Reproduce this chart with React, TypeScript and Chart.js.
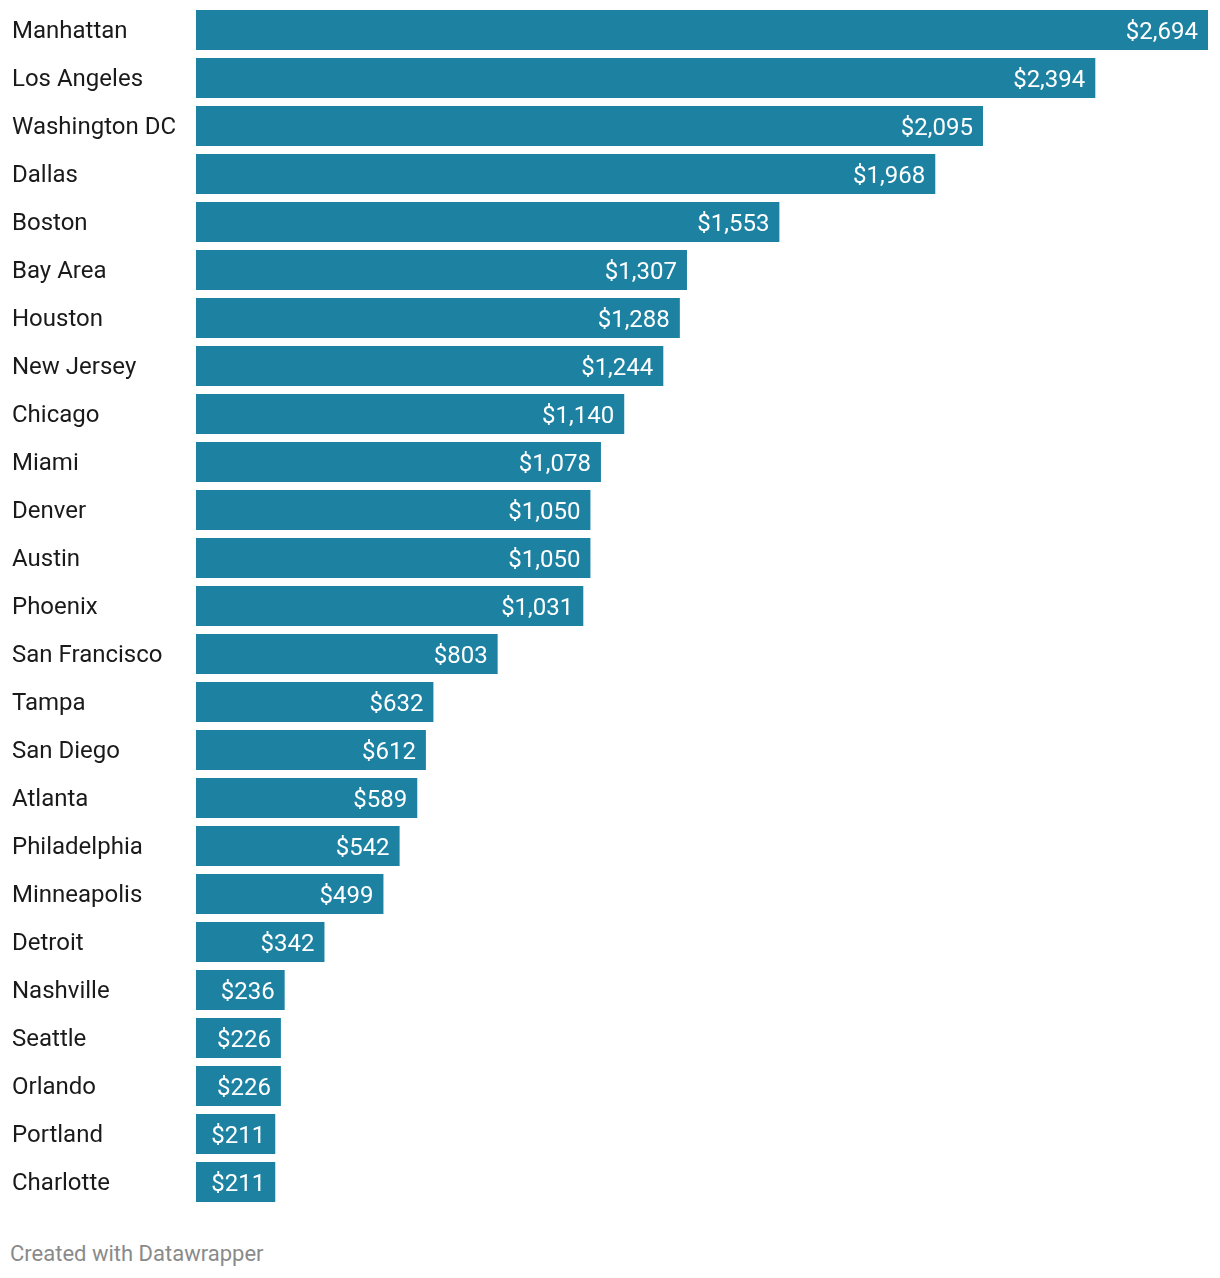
import React, { useEffect, useRef } from "react";
import { Chart, registerables } from "chart.js";

Chart.register(...registerables);

const cities = [
  "Manhattan", "Los Angeles", "Washington DC", "Dallas", "Boston", "Bay Area",
  "Houston", "New Jersey", "Chicago", "Miami", "Denver", "Austin", "Phoenix",
  "San Francisco", "Tampa", "San Diego", "Atlanta", "Philadelphia", "Minneapolis",
  "Detroit", "Nashville", "Seattle", "Orlando", "Portland", "Charlotte",
];

const values = [
  2694, 2394, 2095, 1968, 1553, 1307, 1288, 1244, 1140, 1078, 1050, 1050, 1031,
  803, 632, 612, 589, 542, 499, 342, 236, 226, 226, 211, 211,
];

const BAR_COLOR = "#1d81a2";
const FONT = "Roboto";

const valueLabels = {
  id: "valueLabels",
  afterDatasetsDraw(chart: any) {
    const ctx = chart.ctx;
    const meta = chart.getDatasetMeta(0);
    ctx.save();
    ctx.fillStyle = "#ffffff";
    ctx.font = `400 24px ${FONT}`;
    ctx.textAlign = "right";
    ctx.textBaseline = "middle";
    meta.data.forEach((bar: any, i: number) => {
      const v = values[i];
      const txt = "$" + v.toLocaleString("en-US");
      ctx.fillText(txt, bar.x - 10, bar.y + 3);
    });
    ctx.restore();
  },
};

function BarChart() {
  const ref = useRef<HTMLCanvasElement | null>(null);
  useEffect(() => {
    if (!ref.current) return;
    const chart = new Chart(ref.current, {
      type: "bar",
      data: {
        labels: cities,
        datasets: [
          {
            data: values,
            backgroundColor: BAR_COLOR,
            borderWidth: 0,
            barPercentage: 1,
            categoryPercentage: 40 / 48,
          },
        ],
      },
      options: {
        indexAxis: "y",
        animation: false,
        responsive: false,
        maintainAspectRatio: false,
        layout: { padding: { left: 12, right: 12, top: 6, bottom: 4 } },
        plugins: {
          legend: { display: false },
          tooltip: { enabled: false },
        },
        scales: {
          x: {
            display: false,
            min: 0,
            max: 2694,
          },
          y: {
            grid: { display: false, drawTicks: false },
            border: { display: false },
            ticks: {
              crossAlign: "far",
              color: "#1a1a1a",
              font: { family: FONT, size: 24, lineHeight: 0.01 },
              padding: 0,
              labelOffset: 2,
              autoSkip: false,
            },
            afterFit(scale: any) {
              scale.width = 184;
            },
          },
        },
      },
      plugins: [valueLabels],
    } as any);
    return () => chart.destroy();
  }, []);
  return <canvas ref={ref} width={1220} height={1210} style={{ display: "block" }} />;
}

export default function App() {
  return (
    <div style={{ position: "absolute", left: 0, top: 0, width: 1220, height: 1278, background: "#fff" }}>
      <BarChart />
      <div
        style={{
          position: "absolute",
          left: 10,
          top: 1240,
          fontFamily: FONT,
          fontSize: 22,
          color: "#8a8a8a",
          lineHeight: "28px",
          whiteSpace: "nowrap",
        }}
      >
        Created with Datawrapper
      </div>
    </div>
  );
}
